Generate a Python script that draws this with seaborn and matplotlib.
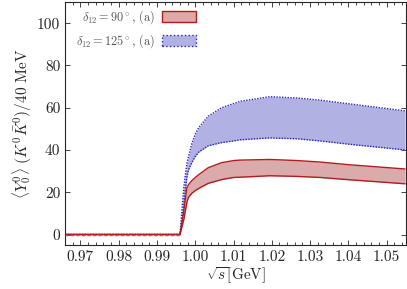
import numpy as np
import pandas as pd
import matplotlib
matplotlib.use("Agg")
import matplotlib.pyplot as plt
import seaborn as sns
from matplotlib.patches import Patch
from matplotlib.ticker import MultipleLocator

# data
sqrt_s = [0.966, 0.9960, 0.9970, 0.9974, 0.9978, 0.9982, 0.9991, 1.0000,
          1.0009, 1.0034, 1.0069, 1.0101, 1.0117, 1.0195, 1.0265, 1.0325,
          1.0403, 1.0548]
red_upper = [0, 0, 11, 16.5, 22, 23.5, 25.5, 27, 28.3, 31.6, 34, 35, 35.2,
             35.5, 35, 34.3, 33, 31]
red_lower = [0, 0, 7, 11, 15, 17.5, 19.5, 20.8, 21.8, 24.2, 26, 27, 27.1,
             27.8, 27.5, 27, 25.9, 24]
blue_upper = [0, 0, 22, 28, 33.5, 36.5, 43, 47.5, 50.6, 56, 60, 62, 63,
              65.2, 64.6, 63.6, 61.8, 58.5]
blue_lower = [0, 0, 13, 20.8, 27, 30.5, 34, 37, 39, 42, 43.5, 44.3, 44.8,
              45.7, 45.3, 44.3, 42.7, 40]

df = pd.DataFrame({
    "sqrt_s": sqrt_s,
    "red_upper": red_upper, "red_lower": red_lower,
    "blue_upper": blue_upper, "blue_lower": blue_lower,
})

sns.set_style("ticks")
plt.rcParams["font.family"] = "serif"
plt.rcParams["font.serif"] = ["cmr10", "DejaVu Serif"]
plt.rcParams["mathtext.fontset"] = "cm"
plt.rcParams["axes.formatter.use_mathtext"] = True
plt.rcParams["axes.unicode_minus"] = False

red_fill = "#dbaaab"
red_edge = "#b21c1c"
blue_fill = "#b1b1e3"
blue_edge = "#2525b5"

fig = plt.figure(figsize=(4.07, 2.89), dpi=100)
ax = fig.add_axes([0.16, 0.152, 0.837, 0.841])

# blue band (delta = 125)
ax.fill_between(df["sqrt_s"], df["blue_lower"], df["blue_upper"],
                color=blue_fill, lw=0)
sns.lineplot(data=df, x="sqrt_s", y="blue_upper", ax=ax, color=blue_edge,
             lw=1.0, linestyle=(0, (1, 1)))
sns.lineplot(data=df, x="sqrt_s", y="blue_lower", ax=ax, color=blue_edge,
             lw=1.0, linestyle=(0, (1, 1)))

# red band (delta = 90)
ax.fill_between(df["sqrt_s"], df["red_lower"], df["red_upper"],
                color=red_fill, lw=0)
sns.lineplot(data=df, x="sqrt_s", y="red_upper", ax=ax, color=red_edge, lw=1.0)
sns.lineplot(data=df, x="sqrt_s", y="red_lower", ax=ax, color=red_edge, lw=1.0)

# zero line below threshold
below = df[df["sqrt_s"] <= 0.9960]
ax.plot(below["sqrt_s"], below["red_upper"], color="#e04040", lw=1.0,
        linestyle=(0, (2, 2)), zorder=5)

ax.set_xlim(0.966, 1.055)
ax.set_ylim(-5, 110)
ax.xaxis.set_major_locator(MultipleLocator(0.01))
ax.xaxis.set_minor_locator(MultipleLocator(0.002))
ax.yaxis.set_major_locator(MultipleLocator(20))
ax.xaxis.set_major_formatter(plt.FuncFormatter(lambda v, p: f"{v:.2f}"))
ax.yaxis.set_major_formatter(plt.FuncFormatter(lambda v, p: f"{v:.0f}"))
ax.tick_params(which="both", direction="in", top=True, right=True,
               labelsize=11, width=0.6)
ax.tick_params(which="major", length=3.5)
ax.tick_params(which="minor", length=2)
for s in ax.spines.values():
    s.set_linewidth(0.8)

ax.set_xlabel(r"$\sqrt{s}$[GeV]", fontsize=11, labelpad=1)
ax.set_ylabel(r"$\langle Y_0^0\rangle\ (K^0\bar{K}^0)/40$ MeV", fontsize=11,
              labelpad=2)

handles = [
    Patch(facecolor=red_fill, edgecolor=red_edge, lw=1.0),
    Patch(facecolor=blue_fill, edgecolor=blue_edge, lw=1.0, linestyle=":"),
]
labels = [r"$\delta_{12} = 90^\circ$, (a)", r"$\delta_{12} = 125^\circ$, (a)"]
leg = ax.legend(handles, labels, loc="upper left", frameon=False,
                markerfirst=False, fontsize=8.8, handlelength=2.8,
                handleheight=1.0, labelspacing=0.55, handletextpad=0.55,
                bbox_to_anchor=(0.0, 1.02))
for t in leg.get_texts():
    t.set_color("#555555")

fig.savefig("out.png", dpi=100)
